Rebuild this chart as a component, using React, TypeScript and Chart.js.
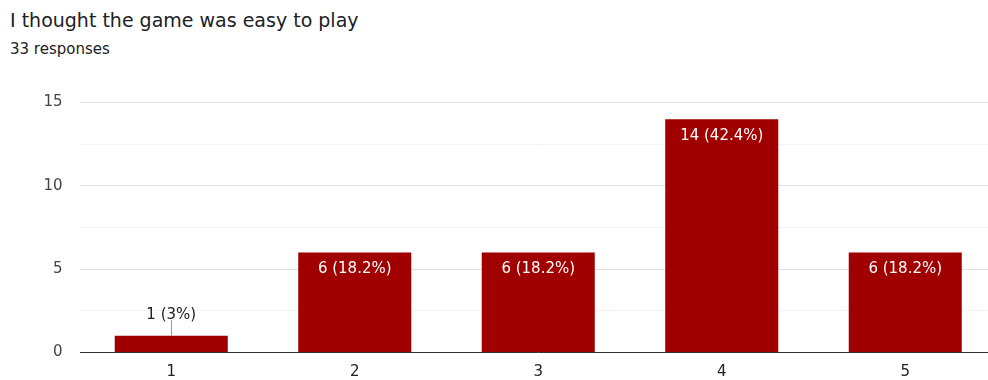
import React, { useEffect, useRef } from "react";
import { Chart, registerables } from "chart.js";

Chart.register(...registerables);

const title = "I thought the game was easy to play";
const subtitle = "33 responses";
const categories = ["1", "2", "3", "4", "5"];
const counts = [1, 6, 6, 14, 6];
const percents = ["3%", "18.2%", "18.2%", "42.4%", "18.2%"];
const yMax = 15;
const yStep = 2.5;
const yLabelStep = 5;

const FONT = "'DejaVu Sans', Roboto, Arial, sans-serif";

const barLabels = {
  id: "barLabels",
  afterDatasetsDraw(chart: any) {
    const ctx = chart.ctx;
    const meta = chart.getDatasetMeta(0);
    ctx.save();
    ctx.font = `15px ${FONT}`;
    ctx.textAlign = "center";
    ctx.textBaseline = "alphabetic";
    meta.data.forEach((bar: any, i: number) => {
      const text = `${counts[i]} (${percents[i]})`;
      const h = bar.base - bar.y;
      if (h > 26) {
        ctx.fillStyle = "#ffffff";
        ctx.fillText(text, bar.x, bar.y + 20.5);
      } else {
        ctx.strokeStyle = "#999999";
        ctx.lineWidth = 1;
        ctx.beginPath();
        ctx.moveTo(Math.round(bar.x) + 0.5, bar.y);
        ctx.lineTo(Math.round(bar.x) + 0.5, bar.y - 16);
        ctx.stroke();
        ctx.fillStyle = "#222222";
        ctx.fillText(text, bar.x, bar.y - 17);
      }
    });
    ctx.restore();
  },
};

export default function App() {
  const ref = useRef<HTMLCanvasElement | null>(null);

  useEffect(() => {
    document.body.style.margin = "0";
    const chart = new Chart(ref.current as HTMLCanvasElement, {
      type: "bar",
      data: {
        labels: categories,
        datasets: [
          {
            data: counts,
            backgroundColor: "#a00000",
            borderWidth: 0,
            categoryPercentage: 1,
            barPercentage: 0.616,
          },
        ],
      },
      options: {
        animation: false,
        responsive: false,
        maintainAspectRatio: false,
        layout: { padding: { top: 102.5, right: 0, left: 0, bottom: 0 } },
        plugins: {
          legend: { display: false },
          tooltip: { enabled: false },
          title: { display: false },
        },
        scales: {
          x: {
            grid: { display: false, drawTicks: false },
            border: { display: false },
            ticks: {
              color: "#222222",
              font: { family: FONT, size: 15 },
              padding: 11,
            },
            afterFit: (s: any) => {
              s.height = 27.5;
            },
          },
          y: {
            min: 0,
            max: yMax,
            border: { display: false },
            grid: {
              drawTicks: false,
              color: (c: any) => {
                const v = c.tick ? c.tick.value : 0;
                if (v === 0) return "#333333";
                return v % yLabelStep === 0 ? "#e3e3e3" : "#f2f2f2";
              },
              lineWidth: 1,
            },
            ticks: {
              stepSize: yStep,
              color: "#444444",
              font: { family: FONT, size: 15 },
              padding: 17,
              callback: (v: any) => (Number(v) % yLabelStep === 0 ? String(v) : ""),
            },
            afterFit: (s: any) => {
              s.width = 79.5;
            },
          },
        },
      },
      plugins: [barLabels],
    });
    return () => chart.destroy();
  }, []);

  return (
    <div style={{ position: "relative", width: 988, height: 380, overflow: "hidden", background: "#fff" }}>
      <div
        style={{
          position: "absolute",
          left: 10,
          top: 6,
          fontFamily: FONT,
          fontSize: 19,
          color: "#202124",
          whiteSpace: "nowrap",
          lineHeight: "28px",
        }}
      >
        {title}
      </div>
      <div
        style={{
          position: "absolute",
          left: 10,
          top: 39,
          fontFamily: FONT,
          fontSize: 15,
          color: "#202124",
          whiteSpace: "nowrap",
          lineHeight: "20px",
        }}
      >
        {subtitle}
      </div>
      <canvas ref={ref} width={997} height={380} style={{ position: "absolute", left: 0, top: 0 }} />
    </div>
  );
}
